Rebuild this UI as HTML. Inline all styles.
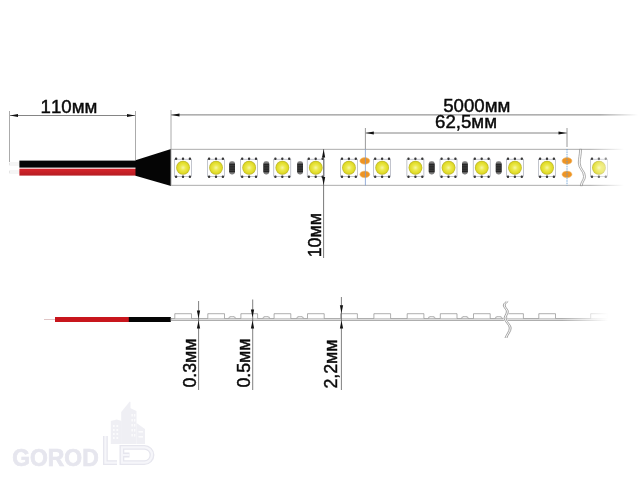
<!DOCTYPE html>
<html><head><meta charset="utf-8"><title>LED strip</title>
<style>
html,body{margin:0;padding:0;background:#fff;}
svg{display:block}
text{font-family:"Liberation Sans",sans-serif;fill:#0a0a0a;stroke:#0a0a0a;stroke-width:0.45;font-kerning:none;}
</style></head><body>
<svg width="640" height="480" viewBox="0 0 640 480">
<defs>
<radialGradient id="yl" cx="0.5" cy="0.5" r="0.5">
<stop offset="0" stop-color="#f7f6a8"/><stop offset="0.38" stop-color="#ece94e"/><stop offset="0.8" stop-color="#e0db26"/><stop offset="1" stop-color="#b8b228"/>
</radialGradient>
<linearGradient id="fade" x1="0" x2="1" y1="0" y2="0">
<stop offset="0" stop-color="#fff" stop-opacity="0"/><stop offset="1" stop-color="#fff" stop-opacity="1"/>
</linearGradient>
<linearGradient id="lfade" gradientUnits="userSpaceOnUse" x1="600" x2="638" y1="0" y2="0">
<stop offset="0" stop-color="#7c7c7c"/><stop offset="1" stop-color="#7c7c7c" stop-opacity="0"/>
</linearGradient>
<linearGradient id="redw" x1="0" x2="0" y1="0" y2="1">
<stop offset="0" stop-color="#d8242b"/><stop offset="1" stop-color="#b51d23"/>
</linearGradient>
</defs>
<rect width="640" height="480" fill="#fff"/>

<path d="M9.5 111V162M135.5 111V160M171 110V149" stroke="#969696" stroke-width="0.8" fill="none"/>
<g stroke="#666" stroke-width="0.8" fill="none">
<path d="M10 115.5H135"/>
<path d="M171 114.9H640" stroke="url(#lfade)" stroke-width="1"/>
<path d="M365.5 133H567"/>
</g>
<g stroke="#808080" stroke-width="0.8" fill="none"><path d="M365.4 128V149M567 128V147"/></g>
<g fill="#111">
<path d="M10 115.5l8-1.6v3.2z"/><path d="M135 115.5l-8-1.6v3.2z"/>
<path d="M171.5 115l8-1.6v3.2z"/>
<path d="M365.8 133l8-1.6v3.2z"/><path d="M566.5 133l-8-1.6v3.2z"/>
</g>
<rect x="9.5" y="163" width="10" height="2" fill="#fff" stroke="#d5d5d5" stroke-width="0.5"/>
<rect x="9.5" y="171" width="10" height="2" fill="#fff" stroke="#d5d5d5" stroke-width="0.5"/>
<rect x="19.4" y="160.6" width="117" height="7" fill="#050505"/>
<rect x="19.4" y="168.7" width="117" height="6.9" fill="url(#redw)"/>
<path d="M135.5 160.3L171 149V186L135.5 175.8z" fill="#050505"/>
<rect x="171" y="149.3" width="480" height="36" fill="#fff" stroke="#a4a4a4" stroke-width="0.9"/>
<g transform="translate(174.5,159.2)" opacity="1"><rect x="0" y="0" width="17" height="17.1" fill="#fefefe" stroke="#9a9eac" stroke-width="0.6"/><rect x="0.45" y="-1.6" width="2.3" height="2.3" rx="0.9" fill="#3a3a3a"/><rect x="0.45" y="16.4" width="2.3" height="2.3" rx="0.9" fill="#3a3a3a"/><rect x="7.35" y="-1.6" width="2.3" height="2.3" rx="0.9" fill="#3a3a3a"/><rect x="7.35" y="16.4" width="2.3" height="2.3" rx="0.9" fill="#3a3a3a"/><rect x="14.25" y="-1.6" width="2.3" height="2.3" rx="0.9" fill="#3a3a3a"/><rect x="14.25" y="16.4" width="2.3" height="2.3" rx="0.9" fill="#3a3a3a"/><circle cx="8.55" cy="8.55" r="6.9" fill="url(#yl)"/></g>
<g transform="translate(207.5,159.2)" opacity="1"><rect x="0" y="0" width="17" height="17.1" fill="#fefefe" stroke="#9a9eac" stroke-width="0.6"/><rect x="0.45" y="-1.6" width="2.3" height="2.3" rx="0.9" fill="#3a3a3a"/><rect x="0.45" y="16.4" width="2.3" height="2.3" rx="0.9" fill="#3a3a3a"/><rect x="7.35" y="-1.6" width="2.3" height="2.3" rx="0.9" fill="#3a3a3a"/><rect x="7.35" y="16.4" width="2.3" height="2.3" rx="0.9" fill="#3a3a3a"/><rect x="14.25" y="-1.6" width="2.3" height="2.3" rx="0.9" fill="#3a3a3a"/><rect x="14.25" y="16.4" width="2.3" height="2.3" rx="0.9" fill="#3a3a3a"/><circle cx="8.55" cy="8.55" r="6.9" fill="url(#yl)"/></g>
<g transform="translate(240.6,159.2)" opacity="1"><rect x="0" y="0" width="17" height="17.1" fill="#fefefe" stroke="#9a9eac" stroke-width="0.6"/><rect x="0.45" y="-1.6" width="2.3" height="2.3" rx="0.9" fill="#3a3a3a"/><rect x="0.45" y="16.4" width="2.3" height="2.3" rx="0.9" fill="#3a3a3a"/><rect x="7.35" y="-1.6" width="2.3" height="2.3" rx="0.9" fill="#3a3a3a"/><rect x="7.35" y="16.4" width="2.3" height="2.3" rx="0.9" fill="#3a3a3a"/><rect x="14.25" y="-1.6" width="2.3" height="2.3" rx="0.9" fill="#3a3a3a"/><rect x="14.25" y="16.4" width="2.3" height="2.3" rx="0.9" fill="#3a3a3a"/><circle cx="8.55" cy="8.55" r="6.9" fill="url(#yl)"/></g>
<g transform="translate(273.8,159.2)" opacity="1"><rect x="0" y="0" width="17" height="17.1" fill="#fefefe" stroke="#9a9eac" stroke-width="0.6"/><rect x="0.45" y="-1.6" width="2.3" height="2.3" rx="0.9" fill="#3a3a3a"/><rect x="0.45" y="16.4" width="2.3" height="2.3" rx="0.9" fill="#3a3a3a"/><rect x="7.35" y="-1.6" width="2.3" height="2.3" rx="0.9" fill="#3a3a3a"/><rect x="7.35" y="16.4" width="2.3" height="2.3" rx="0.9" fill="#3a3a3a"/><rect x="14.25" y="-1.6" width="2.3" height="2.3" rx="0.9" fill="#3a3a3a"/><rect x="14.25" y="16.4" width="2.3" height="2.3" rx="0.9" fill="#3a3a3a"/><circle cx="8.55" cy="8.55" r="6.9" fill="url(#yl)"/></g>
<g transform="translate(307.2,159.2)" opacity="1"><rect x="0" y="0" width="17" height="17.1" fill="#fefefe" stroke="#9a9eac" stroke-width="0.6"/><rect x="0.45" y="-1.6" width="2.3" height="2.3" rx="0.9" fill="#3a3a3a"/><rect x="0.45" y="16.4" width="2.3" height="2.3" rx="0.9" fill="#3a3a3a"/><rect x="7.35" y="-1.6" width="2.3" height="2.3" rx="0.9" fill="#3a3a3a"/><rect x="7.35" y="16.4" width="2.3" height="2.3" rx="0.9" fill="#3a3a3a"/><rect x="14.25" y="-1.6" width="2.3" height="2.3" rx="0.9" fill="#3a3a3a"/><rect x="14.25" y="16.4" width="2.3" height="2.3" rx="0.9" fill="#3a3a3a"/><circle cx="8.55" cy="8.55" r="6.9" fill="url(#yl)"/></g>
<g transform="translate(340.4,159.2)" opacity="1"><rect x="0" y="0" width="17" height="17.1" fill="#fefefe" stroke="#9a9eac" stroke-width="0.6"/><rect x="0.45" y="-1.6" width="2.3" height="2.3" rx="0.9" fill="#3a3a3a"/><rect x="0.45" y="16.4" width="2.3" height="2.3" rx="0.9" fill="#3a3a3a"/><rect x="7.35" y="-1.6" width="2.3" height="2.3" rx="0.9" fill="#3a3a3a"/><rect x="7.35" y="16.4" width="2.3" height="2.3" rx="0.9" fill="#3a3a3a"/><rect x="14.25" y="-1.6" width="2.3" height="2.3" rx="0.9" fill="#3a3a3a"/><rect x="14.25" y="16.4" width="2.3" height="2.3" rx="0.9" fill="#3a3a3a"/><circle cx="8.55" cy="8.55" r="6.9" fill="url(#yl)"/></g>
<g transform="translate(373.6,159.2)" opacity="1"><rect x="0" y="0" width="17" height="17.1" fill="#fefefe" stroke="#9a9eac" stroke-width="0.6"/><rect x="0.45" y="-1.6" width="2.3" height="2.3" rx="0.9" fill="#3a3a3a"/><rect x="0.45" y="16.4" width="2.3" height="2.3" rx="0.9" fill="#3a3a3a"/><rect x="7.35" y="-1.6" width="2.3" height="2.3" rx="0.9" fill="#3a3a3a"/><rect x="7.35" y="16.4" width="2.3" height="2.3" rx="0.9" fill="#3a3a3a"/><rect x="14.25" y="-1.6" width="2.3" height="2.3" rx="0.9" fill="#3a3a3a"/><rect x="14.25" y="16.4" width="2.3" height="2.3" rx="0.9" fill="#3a3a3a"/><circle cx="8.55" cy="8.55" r="6.9" fill="url(#yl)"/></g>
<g transform="translate(406.9,159.2)" opacity="1"><rect x="0" y="0" width="17" height="17.1" fill="#fefefe" stroke="#9a9eac" stroke-width="0.6"/><rect x="0.45" y="-1.6" width="2.3" height="2.3" rx="0.9" fill="#3a3a3a"/><rect x="0.45" y="16.4" width="2.3" height="2.3" rx="0.9" fill="#3a3a3a"/><rect x="7.35" y="-1.6" width="2.3" height="2.3" rx="0.9" fill="#3a3a3a"/><rect x="7.35" y="16.4" width="2.3" height="2.3" rx="0.9" fill="#3a3a3a"/><rect x="14.25" y="-1.6" width="2.3" height="2.3" rx="0.9" fill="#3a3a3a"/><rect x="14.25" y="16.4" width="2.3" height="2.3" rx="0.9" fill="#3a3a3a"/><circle cx="8.55" cy="8.55" r="6.9" fill="url(#yl)"/></g>
<g transform="translate(440.0,159.2)" opacity="1"><rect x="0" y="0" width="17" height="17.1" fill="#fefefe" stroke="#9a9eac" stroke-width="0.6"/><rect x="0.45" y="-1.6" width="2.3" height="2.3" rx="0.9" fill="#3a3a3a"/><rect x="0.45" y="16.4" width="2.3" height="2.3" rx="0.9" fill="#3a3a3a"/><rect x="7.35" y="-1.6" width="2.3" height="2.3" rx="0.9" fill="#3a3a3a"/><rect x="7.35" y="16.4" width="2.3" height="2.3" rx="0.9" fill="#3a3a3a"/><rect x="14.25" y="-1.6" width="2.3" height="2.3" rx="0.9" fill="#3a3a3a"/><rect x="14.25" y="16.4" width="2.3" height="2.3" rx="0.9" fill="#3a3a3a"/><circle cx="8.55" cy="8.55" r="6.9" fill="url(#yl)"/></g>
<g transform="translate(473.2,159.2)" opacity="1"><rect x="0" y="0" width="17" height="17.1" fill="#fefefe" stroke="#9a9eac" stroke-width="0.6"/><rect x="0.45" y="-1.6" width="2.3" height="2.3" rx="0.9" fill="#3a3a3a"/><rect x="0.45" y="16.4" width="2.3" height="2.3" rx="0.9" fill="#3a3a3a"/><rect x="7.35" y="-1.6" width="2.3" height="2.3" rx="0.9" fill="#3a3a3a"/><rect x="7.35" y="16.4" width="2.3" height="2.3" rx="0.9" fill="#3a3a3a"/><rect x="14.25" y="-1.6" width="2.3" height="2.3" rx="0.9" fill="#3a3a3a"/><rect x="14.25" y="16.4" width="2.3" height="2.3" rx="0.9" fill="#3a3a3a"/><circle cx="8.55" cy="8.55" r="6.9" fill="url(#yl)"/></g>
<g transform="translate(506.4,159.2)" opacity="1"><rect x="0" y="0" width="17" height="17.1" fill="#fefefe" stroke="#9a9eac" stroke-width="0.6"/><rect x="0.45" y="-1.6" width="2.3" height="2.3" rx="0.9" fill="#3a3a3a"/><rect x="0.45" y="16.4" width="2.3" height="2.3" rx="0.9" fill="#3a3a3a"/><rect x="7.35" y="-1.6" width="2.3" height="2.3" rx="0.9" fill="#3a3a3a"/><rect x="7.35" y="16.4" width="2.3" height="2.3" rx="0.9" fill="#3a3a3a"/><rect x="14.25" y="-1.6" width="2.3" height="2.3" rx="0.9" fill="#3a3a3a"/><rect x="14.25" y="16.4" width="2.3" height="2.3" rx="0.9" fill="#3a3a3a"/><circle cx="8.55" cy="8.55" r="6.9" fill="url(#yl)"/></g>
<g transform="translate(538.5,159.2)" opacity="1"><rect x="0" y="0" width="17" height="17.1" fill="#fefefe" stroke="#9a9eac" stroke-width="0.6"/><rect x="0.45" y="-1.6" width="2.3" height="2.3" rx="0.9" fill="#3a3a3a"/><rect x="0.45" y="16.4" width="2.3" height="2.3" rx="0.9" fill="#3a3a3a"/><rect x="7.35" y="-1.6" width="2.3" height="2.3" rx="0.9" fill="#3a3a3a"/><rect x="7.35" y="16.4" width="2.3" height="2.3" rx="0.9" fill="#3a3a3a"/><rect x="14.25" y="-1.6" width="2.3" height="2.3" rx="0.9" fill="#3a3a3a"/><rect x="14.25" y="16.4" width="2.3" height="2.3" rx="0.9" fill="#3a3a3a"/><circle cx="8.55" cy="8.55" r="6.9" fill="url(#yl)"/></g>
<g transform="translate(590.4,159.2)" opacity="1"><rect x="0" y="0" width="17" height="17.1" fill="#fefefe" stroke="#9a9eac" stroke-width="0.6"/><rect x="0.45" y="-1.6" width="2.3" height="2.3" rx="0.9" fill="#3a3a3a"/><rect x="0.45" y="16.4" width="2.3" height="2.3" rx="0.9" fill="#3a3a3a"/><rect x="7.35" y="-1.6" width="2.3" height="2.3" rx="0.9" fill="#3a3a3a"/><rect x="7.35" y="16.4" width="2.3" height="2.3" rx="0.9" fill="#3a3a3a"/><rect x="14.25" y="-1.6" width="2.3" height="2.3" rx="0.9" fill="#3a3a3a"/><rect x="14.25" y="16.4" width="2.3" height="2.3" rx="0.9" fill="#3a3a3a"/><circle cx="8.55" cy="8.55" r="6.9" fill="url(#yl)"/></g>
<g transform="translate(229.4,161.5)"><rect x="-0.2" y="-0.3" width="5.8" height="13.3" rx="2.4" fill="#7d7d7d"/><rect x="-0.2" y="2.1" width="5.8" height="8.7" fill="#272727"/><path d="M-0.2 4.2h5.8M-0.2 6.5h5.8M-0.2 8.8h5.8" stroke="#555" stroke-width="0.5"/></g>
<g transform="translate(263.6,161.5)"><rect x="-0.2" y="-0.3" width="5.8" height="13.3" rx="2.4" fill="#7d7d7d"/><rect x="-0.2" y="2.1" width="5.8" height="8.7" fill="#272727"/><path d="M-0.2 4.2h5.8M-0.2 6.5h5.8M-0.2 8.8h5.8" stroke="#555" stroke-width="0.5"/></g>
<g transform="translate(297.4,161.5)"><rect x="-0.2" y="-0.3" width="5.8" height="13.3" rx="2.4" fill="#7d7d7d"/><rect x="-0.2" y="2.1" width="5.8" height="8.7" fill="#272727"/><path d="M-0.2 4.2h5.8M-0.2 6.5h5.8M-0.2 8.8h5.8" stroke="#555" stroke-width="0.5"/></g>
<g transform="translate(429.0,161.5)"><rect x="-0.2" y="-0.3" width="5.8" height="13.3" rx="2.4" fill="#7d7d7d"/><rect x="-0.2" y="2.1" width="5.8" height="8.7" fill="#272727"/><path d="M-0.2 4.2h5.8M-0.2 6.5h5.8M-0.2 8.8h5.8" stroke="#555" stroke-width="0.5"/></g>
<g transform="translate(462.2,161.5)"><rect x="-0.2" y="-0.3" width="5.8" height="13.3" rx="2.4" fill="#7d7d7d"/><rect x="-0.2" y="2.1" width="5.8" height="8.7" fill="#272727"/><path d="M-0.2 4.2h5.8M-0.2 6.5h5.8M-0.2 8.8h5.8" stroke="#555" stroke-width="0.5"/></g>
<g transform="translate(496.0,161.5)"><rect x="-0.2" y="-0.3" width="5.8" height="13.3" rx="2.4" fill="#7d7d7d"/><rect x="-0.2" y="2.1" width="5.8" height="8.7" fill="#272727"/><path d="M-0.2 4.2h5.8M-0.2 6.5h5.8M-0.2 8.8h5.8" stroke="#555" stroke-width="0.5"/></g>
<ellipse cx="364.8" cy="160.9" rx="5" ry="3.3" fill="#ee9424" stroke="#f4c27a" stroke-width="0.6"/>
<ellipse cx="364.8" cy="174.4" rx="5" ry="3.3" fill="#ee9424" stroke="#f4c27a" stroke-width="0.6"/>
<ellipse cx="567" cy="160.9" rx="5" ry="3.3" fill="#ee9424" stroke="#f4c27a" stroke-width="0.6"/>
<ellipse cx="567" cy="174.4" rx="5" ry="3.3" fill="#ee9424" stroke="#f4c27a" stroke-width="0.6"/>
<g stroke="#7c9bd0" stroke-width="0.8" fill="none"><path d="M365.4 149V185.5"/><path d="M567 149V185.5" stroke="#5e9ad6" stroke-dasharray="1.6 0.8"/></g>
<path d="M323.6 149V258" stroke="#555" stroke-width="0.8" fill="none"/>
<path d="M323.6 149.5l-1.6 8h3.2z" fill="#111"/><path d="M323.6 185l-1.6-8h3.2z" fill="#111"/>
<path d="M579.6 149.3C579.6 155 578.3 158 578.3 163C578.3 169 583.6 171 583.6 176.5C583.6 180 580.4 182 580.4 185.7H582.3C582.3 182 585.5 180 585.5 176.5C585.5 171 580.2 169 580.2 163C580.2 158 581.5 155 581.5 149.3Z" fill="#fff" stroke="#6a6a6a" stroke-width="0.55"/>
<rect x="590" y="140" width="34" height="55" fill="url(#fade)"/><rect x="624" y="140" width="16" height="55" fill="#fff"/>
<text x="69" y="113.1" font-size="18.67" text-anchor="middle">110мм</text>
<text x="476.8" y="112.2" font-size="18.67" text-anchor="middle">5000мм</text>
<text x="466" y="127.9" font-size="18.67" text-anchor="middle">62,5мм</text>
<text transform="translate(320.6,257.3) rotate(-90)" font-size="17.8">10мм</text>
<rect x="44" y="319.2" width="11" height="0.8" fill="#d9b8b8"/>
<rect x="55" y="317" width="74" height="5" fill="#c8161d"/>
<rect x="128.8" y="317" width="42" height="5" fill="#050505"/>
<rect x="171" y="318.45" width="470" height="2.1" fill="#dcdcdc" stroke="#858585" stroke-width="0.6"/>
<path d="M174.8 318.4V313.7H191.5V318.4" fill="#fff" stroke="#7a7a7a" stroke-width="0.6"/>
<path d="M207.8 318.4V313.7H224.5V318.4" fill="#fff" stroke="#7a7a7a" stroke-width="0.6"/>
<path d="M240.9 318.4V313.7H257.6V318.4" fill="#fff" stroke="#7a7a7a" stroke-width="0.6"/>
<path d="M274.1 318.4V313.7H290.8V318.4" fill="#fff" stroke="#7a7a7a" stroke-width="0.6"/>
<path d="M307.5 318.4V313.7H324.2V318.4" fill="#fff" stroke="#7a7a7a" stroke-width="0.6"/>
<path d="M340.7 318.4V313.7H357.4V318.4" fill="#fff" stroke="#7a7a7a" stroke-width="0.6"/>
<path d="M373.9 318.4V313.7H390.6V318.4" fill="#fff" stroke="#7a7a7a" stroke-width="0.6"/>
<path d="M407.2 318.4V313.7H423.9V318.4" fill="#fff" stroke="#7a7a7a" stroke-width="0.6"/>
<path d="M440.3 318.4V313.7H457.0V318.4" fill="#fff" stroke="#7a7a7a" stroke-width="0.6"/>
<path d="M473.5 318.4V313.7H490.2V318.4" fill="#fff" stroke="#7a7a7a" stroke-width="0.6"/>
<path d="M506.7 318.4V313.7H523.4V318.4" fill="#fff" stroke="#7a7a7a" stroke-width="0.6"/>
<path d="M538.8 318.4V313.7H555.5V318.4" fill="#fff" stroke="#7a7a7a" stroke-width="0.6"/>
<path d="M590.7 318.4V313.7H607.4V318.4" fill="#fff" stroke="#7a7a7a" stroke-width="0.6"/>
<path d="M229.0 318.3v-1.2h1.2v-0.6h3.8v0.6h1.2v1.2" fill="#eee" stroke="#888" stroke-width="0.5"/>
<path d="M263.2 318.3v-1.2h1.2v-0.6h3.8v0.6h1.2v1.2" fill="#eee" stroke="#888" stroke-width="0.5"/>
<path d="M297.0 318.3v-1.2h1.2v-0.6h3.8v0.6h1.2v1.2" fill="#eee" stroke="#888" stroke-width="0.5"/>
<path d="M428.6 318.3v-1.2h1.2v-0.6h3.8v0.6h1.2v1.2" fill="#eee" stroke="#888" stroke-width="0.5"/>
<path d="M461.8 318.3v-1.2h1.2v-0.6h3.8v0.6h1.2v1.2" fill="#eee" stroke="#888" stroke-width="0.5"/>
<path d="M495.6 318.3v-1.2h1.2v-0.6h3.8v0.6h1.2v1.2" fill="#eee" stroke="#888" stroke-width="0.5"/>
<path d="M506.3 301.5C504 303 503 304.5 503.4 306C504.3 308.5 506.8 310 506.4 312C506 314.5 503.6 316.5 504.2 319C505.4 322.5 509.3 325 509.3 328C509.3 331.5 506 334.5 505 338" fill="none" stroke="#fff" stroke-width="3.4" transform="translate(0.9,0)"/>
<path d="M506.3 301.5C504 303 503 304.5 503.4 306C504.3 308.5 506.8 310 506.4 312C506 314.5 503.6 316.5 504.2 319C505.4 322.5 509.3 325 509.3 328C509.3 331.5 506 334.5 505 338" fill="none" stroke="#666" stroke-width="0.6"/>
<path d="M506.3 301.5C504 303 503 304.5 503.4 306C504.3 308.5 506.8 310 506.4 312C506 314.5 503.6 316.5 504.2 319C505.4 322.5 509.3 325 509.3 328C509.3 331.5 506 334.5 505 338" fill="none" stroke="#666" stroke-width="0.6" transform="translate(1.9,0)"/>
<rect x="562" y="305" width="46" height="22" fill="url(#fade)"/><rect x="608" y="305" width="32" height="22" fill="#fff"/>
<g stroke="#4a4a4a" stroke-width="0.7" fill="none">
<path d="M198.6 301V390M252.7 299.5V390M341.4 297V390"/>
</g>
<g fill="#111">
<path d="M198.5 318.4l-1.6-8h3.2z"/><path d="M198.5 320.6l-1.6 8h3.2z"/>
<path d="M252.5 317.6l-1.6-8h3.2z"/><path d="M252.5 320.6l-1.6 8h3.2z"/>
<path d="M341.5 313.2l-1.6-8h3.2z"/><path d="M341.5 320.6l-1.6 8h3.2z"/>
</g>
<text transform="translate(196.1,387.6) rotate(-90)" font-size="17.8">0.3мм</text>
<text transform="translate(249.9,387.6) rotate(-90)" font-size="17.8">0.5мм</text>
<text transform="translate(336.9,388.6) rotate(-90)" font-size="17.8">2,2мм</text>
<text x="12.2" y="465.5" font-size="23" font-weight="bold" style="fill:#e6e6ee;stroke:#e6e6ee;stroke-width:0.7" textLength="86.5" lengthAdjust="spacingAndGlyphs">GOROD</text>
<path d="M105.4 436V462.6H117M131.5 447.4H121.9V462.6H131.5M121.9 455H129.5M131.5 447.4H144.4a7.6 7.6 0 0 1 0 15.2H131.5" fill="none" stroke="#e6e6ee" stroke-width="4.8"/>
<path d="M105.4 436V462.6H117M131.5 447.4H121.9V462.6H131.5M121.9 455H129.5M131.5 447.4H144.4a7.6 7.6 0 0 1 0 15.2H131.5" fill="none" stroke="#f6f6fa" stroke-width="2.2"/>
<g fill="#e6e6ee" opacity="0.62">
<path d="M110.8 444V421l6-1.5 5 1.5v23z"/>
<path d="M121.2 444V412l8.5-10.5 0.8 0.5V444z"/>
<path d="M130 444V408l6.5 3V444z"/>
<path d="M136.5 444V423l8.5 6V444z"/>
</g>
<g fill="#fff" opacity="0.8">
<rect x="113" y="425" width="1.6" height="2"/><rect x="116.5" y="425" width="1.6" height="2"/>
<rect x="113" y="429" width="1.6" height="2"/><rect x="116.5" y="429" width="1.6" height="2"/>
<rect x="113" y="433" width="1.6" height="2"/><rect x="116.5" y="433" width="1.6" height="2"/>
<rect x="113" y="437" width="1.6" height="2"/><rect x="116.5" y="437" width="1.6" height="2"/>
<rect x="131.5" y="414" width="1.3" height="2.5"/><rect x="134" y="414" width="1.3" height="2.5"/>
<rect x="131.5" y="419" width="1.3" height="2.5"/><rect x="134" y="419" width="1.3" height="2.5"/>
<rect x="131.5" y="424" width="1.3" height="2.5"/><rect x="134" y="424" width="1.3" height="2.5"/>
<rect x="131.5" y="429" width="1.3" height="2.5"/><rect x="134" y="429" width="1.3" height="2.5"/>
<rect x="131.5" y="434" width="1.3" height="2.5"/><rect x="134" y="434" width="1.3" height="2.5"/>
<rect x="138.5" y="431" width="4.5" height="1.5"/>
<rect x="138.5" y="436" width="4.5" height="1.5"/>
</g>
</svg>
</body></html>
